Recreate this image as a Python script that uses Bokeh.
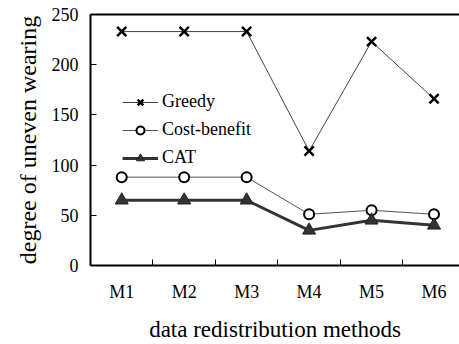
from bokeh.plotting import figure
from bokeh.models import FixedTicker, LinearAxis, Range1d, Legend
from bokeh.embed import file_html
from bokeh.resources import INLINE

# Methods compared and the measured degree of uneven wearing
categories = ["M1", "M2", "M3", "M4", "M5", "M6"]
greedy = [233, 233, 233, 114, 223, 166]
cost_benefit = [88, 88, 88, 51, 55, 51]
cat = [65, 65, 65, 35, 45, 40]
y_ticks = [0, 50, 100, 150, 200, 250]

# each method sits in the middle of a unit-wide slot
xs = [i + 0.5 for i in range(len(categories))]
slot_edges = [i for i in range(1, len(categories))]

FONT = "'Liberation Serif', 'DejaVu Serif', serif"

p = figure(width=459, height=344, output_backend="svg", toolbar_location=None,
           x_range=Range1d(0, 5.908), y_range=Range1d(0, 250),
           min_border_left=90, min_border_right=0, min_border_top=14,
           min_border_bottom=79)
p.outline_line_color = None
p.xgrid.visible = False
p.ygrid.visible = False
p.background_fill_color = "white"
p.border_fill_color = "white"

# x axis: names at slot centres, tick marks at slot edges pointing inward
xa = p.xaxis[0]
xa.ticker = FixedTicker(ticks=xs, minor_ticks=slot_edges)
xa.major_label_overrides = {x: c for x, c in zip(xs, categories)}
xa.major_tick_line_color = None
xa.minor_tick_line_color = "black"
xa.minor_tick_in = 6
xa.minor_tick_out = 0
xa.axis_line_width = 2
xa.major_label_standoff = 10
xa.major_label_text_font = FONT
xa.major_label_text_font_size = "18px"
xa.major_label_text_color = "black"
xa.axis_label = "data redistribution methods"
xa.axis_label_text_font = FONT
xa.axis_label_text_font_size = "23px"
xa.axis_label_text_font_style = "normal"
xa.axis_label_text_color = "black"
xa.axis_label_standoff = 12

ya = p.yaxis[0]
ya.ticker = FixedTicker(ticks=y_ticks)
ya.major_tick_in = 6
ya.major_tick_out = 0
ya.minor_tick_line_color = None
ya.axis_line_width = 2
ya.major_label_standoff = 12
ya.major_label_text_font = FONT
ya.major_label_text_font_size = "18px"
ya.major_label_text_color = "black"
ya.axis_label = "degree of uneven wearing"
ya.axis_label_text_font = FONT
ya.axis_label_text_font_size = "24px"
ya.axis_label_text_font_style = "normal"
ya.axis_label_text_color = "black"
ya.axis_label_standoff = 8

# top border line of the plot area
top = LinearAxis(ticker=FixedTicker(ticks=[]), axis_line_width=2,
                 major_tick_line_color=None, minor_tick_line_color=None,
                 major_label_text_font_size="0px")
p.add_layout(top, "above")

g_line = p.line(xs, greedy, line_color="#444444", line_width=1)
g_mark = p.scatter(xs, greedy, marker="x", size=13, line_color="black", line_width=2.5)

c_line = p.line(xs, cost_benefit, line_color="#555555", line_width=1)
c_mark = p.scatter(xs, cost_benefit, marker="circle", size=10, line_color="black",
                   line_width=2, fill_color="white")

t_line = p.line(xs, cat, line_color="#333333", line_width=3)
t_mark = p.scatter(xs, cat, marker="triangle", size=13, line_color="#222222",
                   line_width=1, fill_color="#333333")

legend = Legend(items=[("Greedy", [g_line, g_mark]),
                       ("Cost-benefit", [c_line, c_mark]),
                       ("CAT", [t_line, t_mark])],
                location=(32, 97))
legend.border_line_color = None
legend.background_fill_alpha = 0
legend.padding = 0
legend.margin = 0
legend.spacing = 7
legend.glyph_width = 36
legend.glyph_height = 20
legend.label_standoff = 4
legend.label_text_font = FONT
legend.label_text_font_size = "18px"
legend.label_text_color = "black"
p.add_layout(legend, "center")

open("out.html", "w").write(file_html(p, INLINE))
